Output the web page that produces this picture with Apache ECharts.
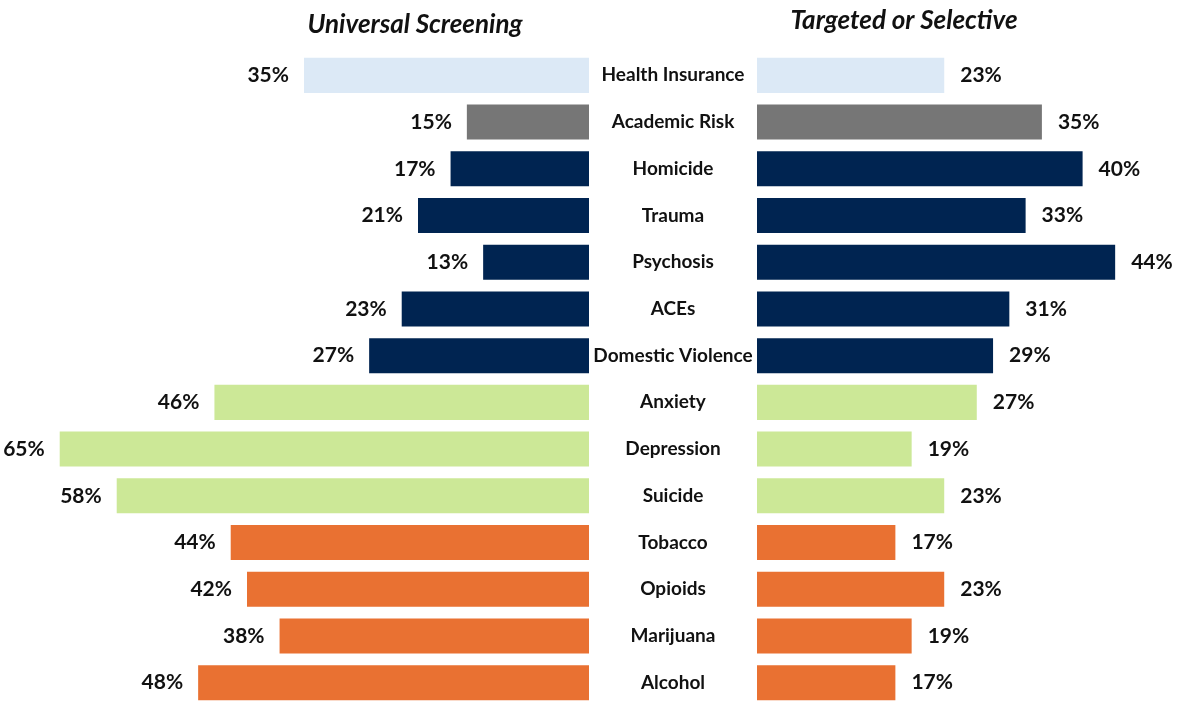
<!DOCTYPE html>
<html>
<head>
<meta charset="utf-8">
<script src="https://cdn.jsdelivr.net/npm/echarts@6/dist/echarts.min.js"></script>
<style>
  html, body { margin: 0; padding: 0; background: #fff; }
  #chart { width: 1182px; height: 708px; }
</style>
</head>
<body>
<div id="chart"></div>
<script>
// Screening topics, top to bottom
const categories = ['Health Insurance', 'Academic Risk', 'Homicide', 'Trauma', 'Psychosis', 'ACEs',
    'Domestic Violence', 'Anxiety', 'Depression', 'Suicide', 'Tobacco', 'Opioids', 'Marijuana', 'Alcohol'];
const universal = [35, 15, 17, 21, 13, 23, 27, 46, 65, 58, 44, 42, 38, 48];
const targeted = [23, 35, 40, 33, 44, 31, 29, 27, 19, 23, 17, 23, 19, 17];
const groups = ['insurance', 'academic', 'violence', 'violence', 'violence', 'violence', 'violence',
    'mental', 'mental', 'mental', 'substance', 'substance', 'substance', 'substance'];
const groupColors = {
    insurance: '#dce9f6',
    academic: '#767676',
    violence: '#002451',
    mental: '#cce897',
    substance: '#e97132'
};

const FONT = 'Lato, "Open Sans", sans-serif';
const chart = echarts.init(document.getElementById('chart'));

const toBars = (vals) => vals.map((v, i) => ({
    value: v,
    itemStyle: { color: groupColors[groups[i]] }
}));

const labelStyle = {
    show: true,
    formatter: '{c}%',
    color: '#111',
    fontFamily: FONT,
    fontWeight: 'bold',
    fontSize: 21
};

const option = {
    animation: false,
    backgroundColor: '#fff',
    title: [
        {
            text: 'Universal Screening',
            left: 410, top: 7, textAlign: 'center',
            textStyle: { fontFamily: FONT, fontSize: 26, fontWeight: 'bold', fontStyle: 'italic', color: '#111' }
        },
        {
            text: 'Targeted or Selective',
            left: 899, top: 3, textAlign: 'center',
            textStyle: { fontFamily: FONT, fontSize: 26, fontWeight: 'bold', fontStyle: 'italic', color: '#111' }
        }
    ],
    grid: [
        { left: 19, width: 570, top: 52, height: 654 },
        { left: 757, width: 407, top: 52, height: 654 }
    ],
    xAxis: [
        { gridIndex: 0, type: 'value', min: 0, max: 70, inverse: true, show: false },
        { gridIndex: 1, type: 'value', min: 0, max: 50, show: false }
    ],
    yAxis: [
        {
            gridIndex: 0, type: 'category', data: categories, inverse: true,
            axisLine: { show: false }, axisTick: { show: false }, axisLabel: { show: false }
        },
        {
            gridIndex: 1, type: 'category', data: categories, inverse: true,
            axisLine: { show: false }, axisTick: { show: false },
            axisLabel: {
                margin: 84, align: 'center', color: '#111', padding: [7, 0, 0, 0],
                fontFamily: FONT, fontWeight: 'bold', fontSize: 19
            }
        }
    ],
    series: [
        {
            name: 'Universal Screening',
            type: 'bar',
            xAxisIndex: 0, yAxisIndex: 0,
            barCategoryGap: '25%',
            data: toBars(universal),
            label: Object.assign({ position: 'left', distance: 15, padding: [4, 0, 0, 0] }, labelStyle)
        },
        {
            name: 'Targeted or Selective',
            type: 'bar',
            xAxisIndex: 1, yAxisIndex: 1,
            barCategoryGap: '25%',
            data: toBars(targeted),
            label: Object.assign({ position: 'right', distance: 16, padding: [4, 0, 0, 0] }, labelStyle)
        }
    ]
};

chart.setOption(option);
</script>
</body>
</html>
